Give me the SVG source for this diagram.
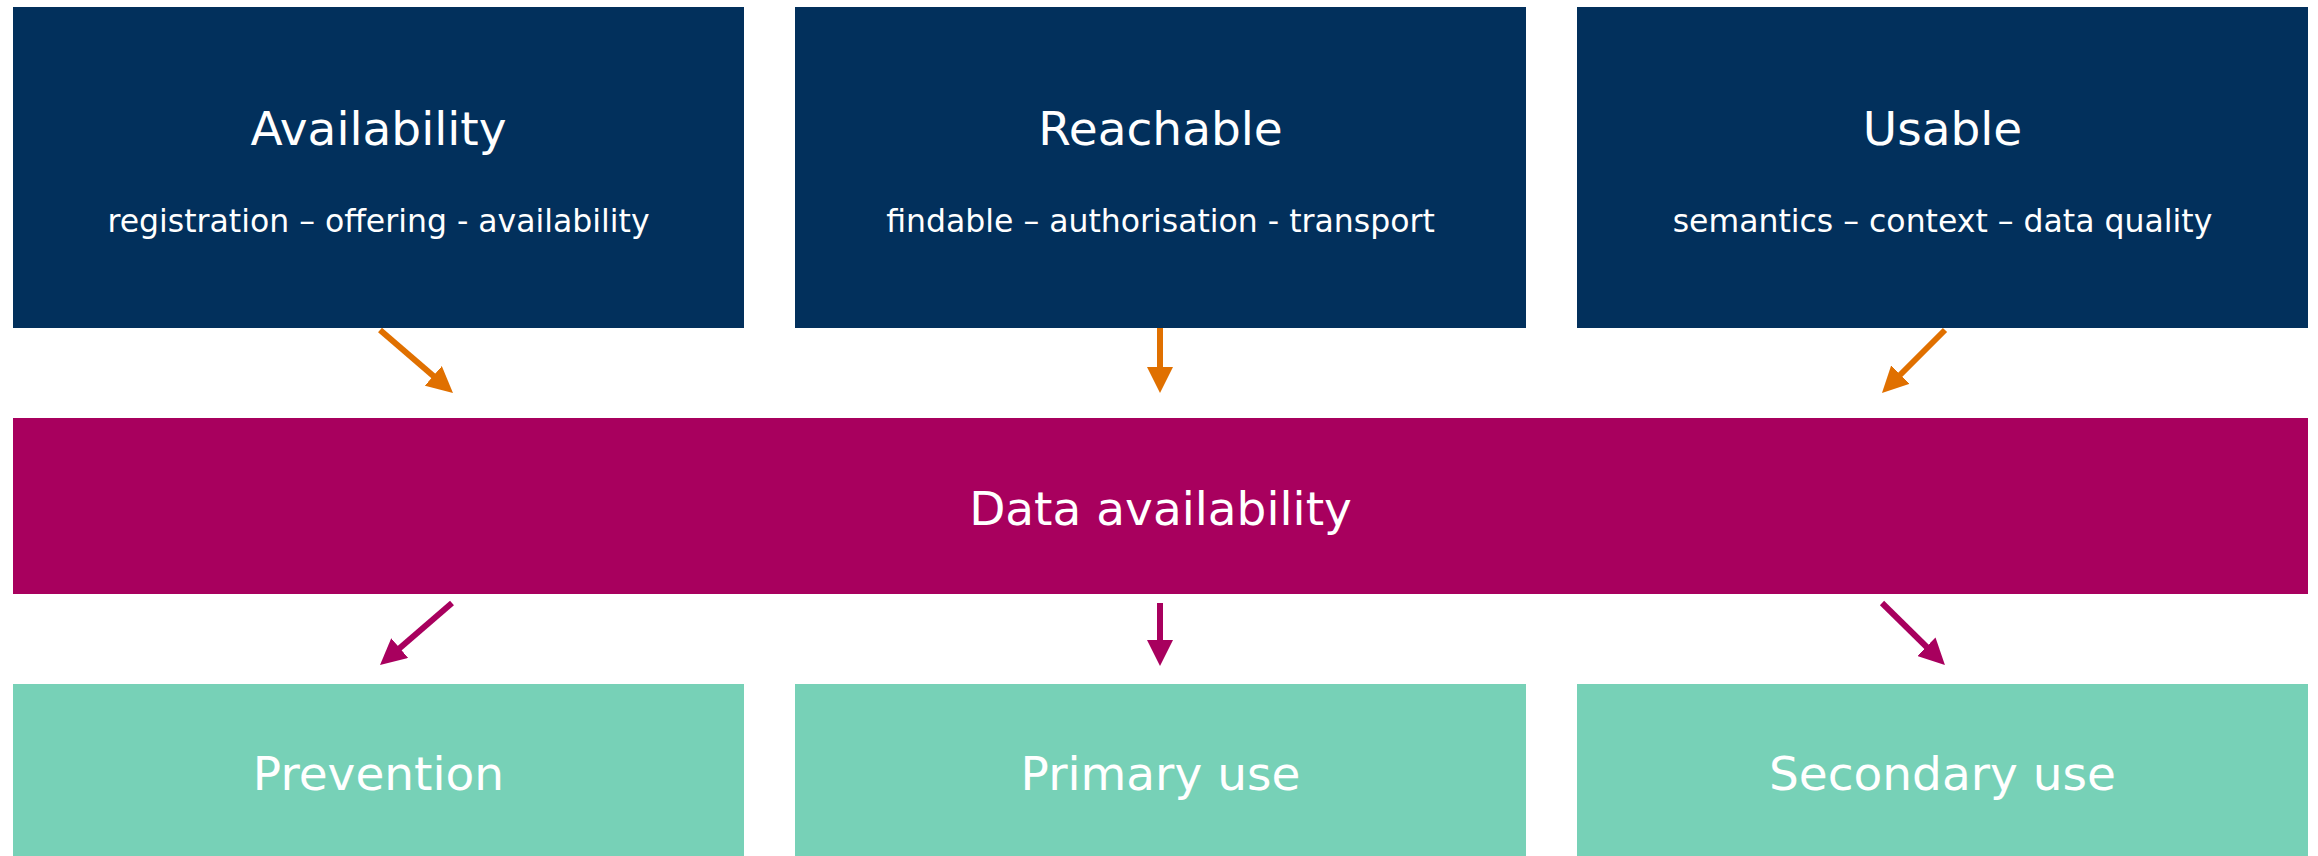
<svg xmlns="http://www.w3.org/2000/svg" width="2318" height="856" viewBox="0 0 2318 856">
<style>
.top{fill:#02305C}
.mid{fill:#A8005E}
.bot{fill:#77D1B7}
text{fill:#ffffff;font-family:"DejaVu Sans",Verdana,sans-serif;text-anchor:middle}
.t{font-size:47px}
.s{font-size:31.5px}
.c-o{stroke:#E07000;stroke-width:6;fill:none}
.c-p{stroke:#A8005E;stroke-width:6;fill:none}
</style>
<defs>
<marker id="ao" markerUnits="userSpaceOnUse" markerWidth="26" markerHeight="26" refX="9" refY="13" orient="auto"><path d="M0,0 L26,13 L0,26 z" fill="#E07000"/></marker>
<marker id="ap" markerUnits="userSpaceOnUse" markerWidth="26" markerHeight="26" refX="9" refY="13" orient="auto"><path d="M0,0 L26,13 L0,26 z" fill="#A8005E"/></marker>
</defs>
<rect width="2318" height="856" fill="#ffffff"/>
<g id="availability"><rect class="top" x="13" y="7" width="731" height="321"/><text class="t" x="378.5" y="145">Availability</text><text class="s" x="378.5" y="232">registration – offering - availability</text></g>
<g id="reachable"><rect class="top" x="795" y="7" width="731" height="321"/><text class="t" x="1160.5" y="145">Reachable</text><text class="s" x="1160.5" y="232">findable – authorisation - transport</text></g>
<g id="usable"><rect class="top" x="1577" y="7" width="731" height="321"/><text class="t" x="1942.5" y="145">Usable</text><text class="s" x="1942.5" y="232">semantics – context – data quality</text></g>
<g id="data-availability"><rect class="mid" x="13" y="418" width="2295" height="176"/><text class="t" x="1160.5" y="525">Data availability</text></g>
<g id="prevention"><rect class="bot" x="13" y="684" width="731" height="172"/><text class="t" x="378.5" y="790">Prevention</text></g>
<g id="primary-use"><rect class="bot" x="795" y="684" width="731" height="172"/><text class="t" x="1160.5" y="790">Primary use</text></g>
<g id="secondary-use"><rect class="bot" x="1577" y="684" width="731" height="172"/><text class="t" x="1942.5" y="790">Secondary use</text></g>
<g id="connectors">
<line class="c-o" x1="380" y1="330" x2="440.1" y2="381.8" marker-end="url(#ao)"/>
<line class="c-o" x1="1160" y1="328" x2="1160" y2="376" marker-end="url(#ao)"/>
<line class="c-o" x1="1945" y1="330" x2="1894" y2="381" marker-end="url(#ao)"/>
<line class="c-p" x1="452" y1="603" x2="392.9" y2="653.9" marker-end="url(#ap)"/>
<line class="c-p" x1="1160" y1="603" x2="1160" y2="649" marker-end="url(#ap)"/>
<line class="c-p" x1="1882" y1="603" x2="1932.8" y2="653" marker-end="url(#ap)"/>
</g>
</svg>
